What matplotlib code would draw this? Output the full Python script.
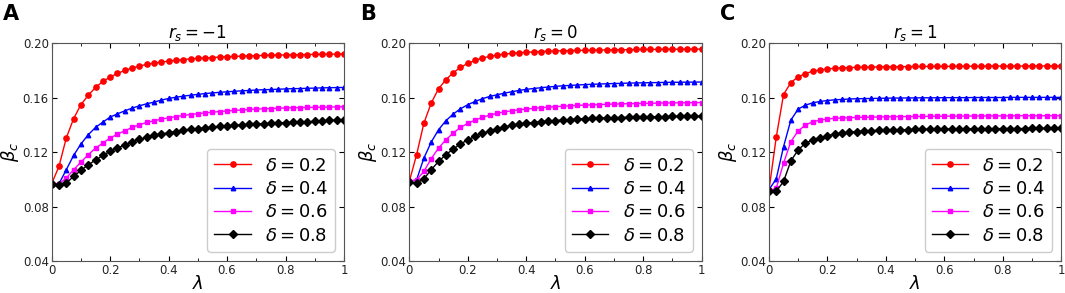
import matplotlib
matplotlib.use("Agg")
import matplotlib.pyplot as plt
from matplotlib.ticker import MultipleLocator
import numpy as np

# lambda grid, 41 points
lam = np.arange(41) * 0.025

# r_s = -1
a_d02 = [0.0968, 0.1096, 0.1304, 0.1446, 0.1549, 0.1618, 0.1676, 0.1720, 0.1752, 0.1779,
         0.1801, 0.1818, 0.1833, 0.1846, 0.1855, 0.1862, 0.1870, 0.1876, 0.1881, 0.1886,
         0.1890, 0.1893, 0.1896, 0.1899, 0.1902, 0.1904, 0.1906, 0.1908, 0.1910, 0.1911,
         0.1913, 0.1914, 0.1915, 0.1916, 0.1917, 0.1918, 0.1919, 0.1920, 0.1920, 0.1921, 0.1922]
a_d04 = [0.0968, 0.0968, 0.1071, 0.1176, 0.1260, 0.1328, 0.1382, 0.1421, 0.1458, 0.1482,
         0.1504, 0.1524, 0.1541, 0.1556, 0.1568, 0.1583, 0.1595, 0.1604, 0.1612, 0.1619,
         0.1625, 0.1631, 0.1636, 0.1640, 0.1644, 0.1648, 0.1651, 0.1654, 0.1657, 0.1659,
         0.1661, 0.1663, 0.1665, 0.1667, 0.1668, 0.1670, 0.1671, 0.1673, 0.1674, 0.1675, 0.1676]
a_d06 = [0.0968, 0.0968, 0.1010, 0.1071, 0.1127, 0.1181, 0.1230, 0.1267, 0.1304, 0.1333,
         0.1357, 0.1382, 0.1402, 0.1419, 0.1431, 0.1443, 0.1453, 0.1462, 0.1470, 0.1477,
         0.1483, 0.1489, 0.1494, 0.1499, 0.1503, 0.1507, 0.1510, 0.1514, 0.1517, 0.1519,
         0.1521, 0.1523, 0.1525, 0.1527, 0.1528, 0.1529, 0.1530, 0.1531, 0.1532, 0.1533, 0.1534]
a_d08 = [0.0968, 0.0960, 0.0973, 0.1022, 0.1066, 0.1107, 0.1142, 0.1176, 0.1206, 0.1230,
         0.1254, 0.1274, 0.1294, 0.1309, 0.1323, 0.1333, 0.1343, 0.1352, 0.1360, 0.1367,
         0.1373, 0.1379, 0.1384, 0.1389, 0.1393, 0.1397, 0.1401, 0.1404, 0.1407, 0.1410,
         0.1413, 0.1416, 0.1418, 0.1420, 0.1422, 0.1424, 0.1426, 0.1430, 0.1434, 0.1436, 0.1438]

# r_s = 0
b_d02 = [0.0985, 0.1181, 0.1414, 0.1561, 0.1666, 0.1732, 0.1784, 0.1823, 0.1853, 0.1875,
         0.1892, 0.1904, 0.1914, 0.1921, 0.1926, 0.1931, 0.1934, 0.1937, 0.1940, 0.1942,
         0.1944, 0.1946, 0.1947, 0.1948, 0.1949, 0.1950, 0.1951, 0.1952, 0.1953, 0.1953,
         0.1954, 0.1955, 0.1955, 0.1956, 0.1956, 0.1957, 0.1957, 0.1957, 0.1958, 0.1958, 0.1958]
b_d04 = [0.0985, 0.0997, 0.1157, 0.1274, 0.1365, 0.1431, 0.1480, 0.1519, 0.1549, 0.1573,
         0.1593, 0.1610, 0.1622, 0.1634, 0.1644, 0.1654, 0.1662, 0.1668, 0.1674, 0.1679,
         0.1684, 0.1688, 0.1691, 0.1694, 0.1697, 0.1699, 0.1701, 0.1703, 0.1705, 0.1706,
         0.1708, 0.1709, 0.1710, 0.1711, 0.1712, 0.1713, 0.1714, 0.1714, 0.1715, 0.1715, 0.1716]
b_d06 = [0.0985, 0.0997, 0.1059, 0.1152, 0.1230, 0.1291, 0.1340, 0.1382, 0.1412, 0.1436,
         0.1456, 0.1473, 0.1485, 0.1497, 0.1504, 0.1512, 0.1517, 0.1522, 0.1527, 0.1531,
         0.1535, 0.1538, 0.1541, 0.1544, 0.1546, 0.1548, 0.1550, 0.1552, 0.1554, 0.1555,
         0.1557, 0.1558, 0.1559, 0.1560, 0.1561, 0.1562, 0.1562, 0.1563, 0.1564, 0.1564, 0.1565]
b_d08 = [0.0978, 0.0973, 0.1004, 0.1071, 0.1132, 0.1181, 0.1223, 0.1260, 0.1291, 0.1316,
         0.1338, 0.1357, 0.1372, 0.1387, 0.1397, 0.1407, 0.1412, 0.1418, 0.1424, 0.1429,
         0.1433, 0.1437, 0.1440, 0.1443, 0.1446, 0.1448, 0.1450, 0.1452, 0.1454, 0.1455,
         0.1457, 0.1458, 0.1459, 0.1460, 0.1461, 0.1462, 0.1463, 0.1463, 0.1464, 0.1464, 0.1465]

# r_s = 1
c_d02 = [0.0920, 0.1310, 0.1624, 0.1712, 0.1754, 0.1778, 0.1795, 0.1805, 0.1812, 0.1817,
         0.1820, 0.1822, 0.1824, 0.1825, 0.1826, 0.1827, 0.1828, 0.1828, 0.1829, 0.1829,
         0.1830, 0.1830, 0.1830, 0.1831, 0.1831, 0.1831, 0.1832, 0.1832, 0.1832, 0.1832,
         0.1833, 0.1833, 0.1833, 0.1833, 0.1833, 0.1834, 0.1834, 0.1834, 0.1834, 0.1834, 0.1834]
c_d04 = [0.0924, 0.1004, 0.1241, 0.1436, 0.1517, 0.1546, 0.1563, 0.1573, 0.1580, 0.1585,
         0.1588, 0.1591, 0.1593, 0.1594, 0.1595, 0.1596, 0.1597, 0.1598, 0.1598, 0.1599,
         0.1599, 0.1600, 0.1600, 0.1600, 0.1601, 0.1601, 0.1601, 0.1601, 0.1602, 0.1602,
         0.1602, 0.1602, 0.1602, 0.1603, 0.1603, 0.1603, 0.1603, 0.1603, 0.1603, 0.1603, 0.1603]
c_d06 = [0.0915, 0.0936, 0.1119, 0.1278, 0.1356, 0.1400, 0.1424, 0.1436, 0.1444, 0.1449,
         0.1451, 0.1454, 0.1456, 0.1457, 0.1458, 0.1459, 0.1460, 0.1461, 0.1462, 0.1462,
         0.1463, 0.1463, 0.1464, 0.1464, 0.1465, 0.1465, 0.1465, 0.1466, 0.1466, 0.1466,
         0.1467, 0.1467, 0.1467, 0.1467, 0.1468, 0.1468, 0.1468, 0.1468, 0.1468, 0.1468, 0.1468]
c_d08 = [0.0917, 0.0912, 0.0985, 0.1136, 0.1217, 0.1266, 0.1290, 0.1307, 0.1322, 0.1332,
         0.1339, 0.1346, 0.1351, 0.1355, 0.1358, 0.1360, 0.1362, 0.1364, 0.1365, 0.1366,
         0.1367, 0.1368, 0.1369, 0.1370, 0.1370, 0.1371, 0.1371, 0.1372, 0.1372, 0.1373,
         0.1373, 0.1373, 0.1374, 0.1374, 0.1374, 0.1374, 0.1375, 0.1375, 0.1375, 0.1375, 0.1375]

panel_letters = ["A", "B", "C"]
titles = [r"$r_s=-1$", r"$r_s=0$", r"$r_s=1$"]
deltas = ["0.2", "0.4", "0.6", "0.8"]
series = [[a_d02, a_d04, a_d06, a_d08],
          [b_d02, b_d04, b_d06, b_d08],
          [c_d02, c_d04, c_d06, c_d08]]

colors = ["#ff0000", "#0000ff", "#ff00ff", "#000000"]
markers = ["o", "^", "s", "D"]
msizes = [3.8, 3.2, 3.2, 3.8]

fig = plt.figure(figsize=(10.65, 2.93), dpi=100)
lefts = [0.0485, 0.3843, 0.722]
width = 0.2745
bottom, height = 0.109, 0.743

for k in range(3):
    ax = fig.add_axes([lefts[k], bottom, width, height])
    for i in range(4):
        ax.plot(lam, series[k][i], color=colors[i], marker=markers[i], ms=msizes[i],
                lw=1.0, label=r"$\delta=%s$" % deltas[i])
    ax.set_xlim(0, 1)
    ax.set_ylim(0.04, 0.20)
    ax.set_xticks([0, 0.2, 0.4, 0.6, 0.8, 1.0])
    ax.set_xticklabels(["0", "0.2", "0.4", "0.6", "0.8", "1"])
    ax.set_yticks([0.04, 0.08, 0.12, 0.16, 0.20])
    ax.set_yticklabels(["0.04", "0.08", "0.12", "0.16", "0.20"])
    ax.xaxis.set_minor_locator(MultipleLocator(0.1))
    ax.tick_params(which="both", direction="in", top=True, right=True, labelsize=8.5,
                   pad=2, labelcolor="#222222")
    ax.tick_params(which="major", length=3.5)
    ax.tick_params(which="minor", length=2)
    for sp in ax.spines.values():
        sp.set_color("#555555")
        sp.set_linewidth(0.8)
    ax.set_title(titles[k], fontsize=12, pad=3)
    ax.set_xlabel(r"$\lambda$", fontsize=13, labelpad=-1)
    ax.set_ylabel(r"$\beta_c$", fontsize=13, labelpad=1)
    ax.legend(loc="lower right", fontsize=13, handlelength=2.0, handletextpad=0.8,
              borderpad=0.4, labelspacing=0.3, framealpha=1.0, edgecolor="#cccccc")
    fig.text(lefts[k] - 0.046, 0.985, panel_letters[k], fontsize=15, fontweight="bold",
             va="top", ha="left")

fig.savefig("out.png", dpi=100)
